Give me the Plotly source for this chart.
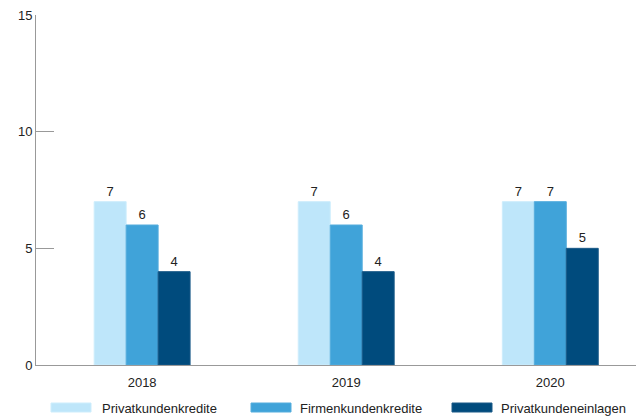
import plotly.graph_objects as go

years = ["2018", "2019", "2020"]
series_names = ["Privatkundenkredite", "Firmenkundenkredite", "Privatkundeneinlagen"]
privatkredite = [7, 7, 7]
firmenkredite = [6, 6, 7]
privateinlagen = [4, 4, 5]
y_ticks = [0, 5, 10, 15]

colors = ["#BEE6FA", "#40A3D9", "#004B7D"]
line_colors = ["#CDEDFC", "#55ADDD", "#1A5A88"]
values = [privatkredite, firmenkredite, privateinlagen]

fig = go.Figure()
for name, vals, c, lc in zip(series_names, values, colors, line_colors):
    fig.add_trace(go.Bar(
        x=years, y=vals, name=name,
        marker=dict(color=c, line=dict(color=lc, width=1)),
        text=[str(v) for v in vals], textposition="outside",
        textfont=dict(size=13, color="#222222"),
        cliponaxis=False, showlegend=False,
    ))

L, W, T, H = 36, 600, 15, 350
def px(x):
    return (x - L) / W
def py(y):
    return (T + H - y) / H

legend_swatch_x = [51, 251, 452]
legend_text_x = [100, 298, 499]
for name, c, lc, x0, xt in zip(series_names, colors, line_colors, legend_swatch_x, legend_text_x):
    fig.add_shape(type="rect", xref="paper", yref="paper",
                  x0=px(x0), x1=px(x0 + 40), y0=py(412), y1=py(403),
                  fillcolor=c, line=dict(color=lc, width=1))
    fig.add_annotation(xref="paper", yref="paper", x=px(xt), y=py(408),
                       text=name, showarrow=False, xanchor="left", yanchor="middle",
                       font=dict(size=13, color="#222222"))

fig.update_layout(
    width=636, height=416,
    margin=dict(l=L, r=0, t=T, b=416 - T - H),
    paper_bgcolor="white", plot_bgcolor="white",
    font=dict(family="Liberation Sans, Arial, sans-serif", size=13, color="#222222"),
    barmode="group", bargap=0.53, bargroupgap=0,
    xaxis=dict(type="category", range=[-0.52, 2.42], showline=True, linecolor="#999999",
               linewidth=1, ticks="", showgrid=False, tickfont=dict(size=13),
               ticklabelstandoff=5),
    yaxis=dict(range=[0, 15], tickvals=y_ticks, showline=True, linecolor="#999999",
               linewidth=1, ticks="inside", ticklen=18, tickcolor="#999999",
               showgrid=False, zeroline=False, tickfont=dict(size=13)),
)

fig.write_html("out.html")
